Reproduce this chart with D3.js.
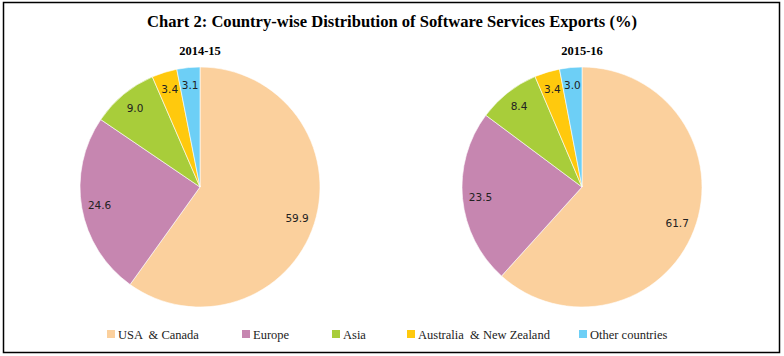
<!DOCTYPE html>
<html><head><meta charset="utf-8">
<script src="https://cdn.jsdelivr.net/npm/d3@7"></script>
<style>body{margin:0;background:#fff}svg{display:block}text{white-space:pre}</style>
</head><body>
<script>
const categories = ["USA  & Canada", "Europe", "Asia", "Australia  & New Zealand", "Other countries"];
const years = ["2014-15", "2015-16"];
const values2014 = [59.9, 24.6, 9.0, 3.4, 3.1];
const values2015 = [61.7, 23.5, 8.4, 3.4, 3.0];
const colors = ["#FBD09D", "#C686B0", "#A8CD3A", "#FFC90D", "#6DCFF6"];
const title = "Chart 2: Country-wise Distribution of Software Services Exports (%)";

const W = 784, H = 356;
const svg = d3.select("body").append("svg").attr("width", W).attr("height", H);
svg.append("rect").attr("x", 3.5).attr("y", 2.5).attr("width", 776).attr("height", 350)
  .attr("fill", "#fff").attr("stroke", "#000").attr("stroke-width", 1.5);

const serif = "'Liberation Serif', 'DejaVu Serif', serif";
svg.append("text").attr("x", 392).attr("y", 27).attr("text-anchor", "middle")
  .attr("font-family", serif).attr("font-weight", "bold").attr("font-size", 17)
  .attr("textLength", 490).attr("lengthAdjust", "spacingAndGlyphs").text(title);

const pie = d3.pie().sort(null).value(d => d);
const R = 120;
const arc = d3.arc().innerRadius(0).outerRadius(R);
const labelArc = d3.arc().innerRadius(R * 0.85).outerRadius(R * 0.85);

const centers = [200, 582];
[values2014, values2015].forEach((vals, i) => {
  const g = svg.append("g").attr("transform", `translate(${centers[i]},187)`);
  svg.append("text").attr("x", centers[i]).attr("y", 55).attr("text-anchor", "middle")
    .attr("font-family", serif).attr("font-weight", "bold").attr("font-size", 12.5).text(years[i]);
  const arcs = pie(vals);
  g.selectAll("path").data(arcs).join("path")
    .attr("d", arc).attr("fill", (d, j) => colors[j])
    .attr("stroke", "#fff").attr("stroke-width", 0.6);
  g.selectAll("text").data(arcs).join("text")
    .attr("transform", d => `translate(${labelArc.centroid(d)})`)
    .attr("text-anchor", "middle").attr("dy", "0.35em")
    .attr("font-family", "'DejaVu Sans', sans-serif").attr("font-size", 10.5).attr("fill", "#222")
    .text(d => d3.format(".1f")(d.data));
});

const legendX = [107, 242, 332, 407, 579];
const lg = svg.append("g");
categories.forEach((c, i) => {
  lg.append("rect").attr("x", legendX[i]).attr("y", 330).attr("width", 8).attr("height", 8).attr("fill", colors[i]);
  lg.append("text").attr("x", legendX[i] + 11).attr("y", 338.5)
    .attr("font-family", serif).attr("font-size", 12.5).attr("fill", "#222").text(c);
});
</script>
</body></html>
